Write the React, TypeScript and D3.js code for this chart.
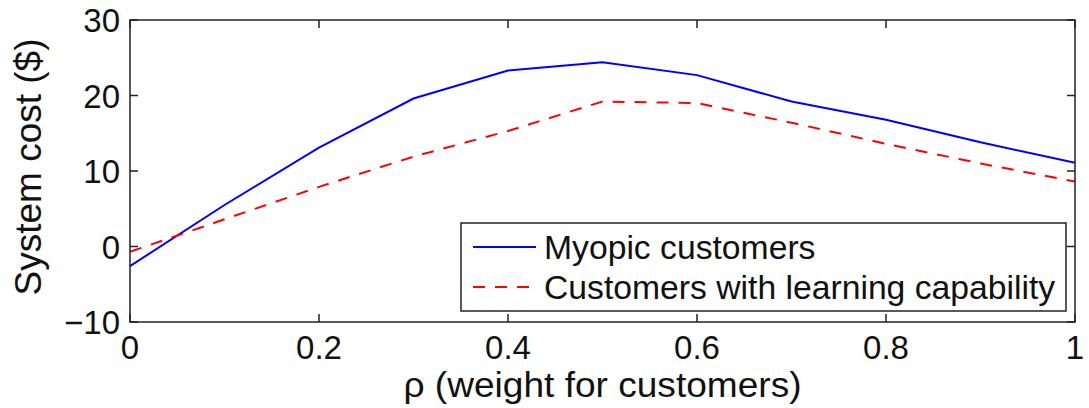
import React from "react";
import * as d3 from "d3";

// weight for customers
const rho = [0, 0.1, 0.2, 0.3, 0.4, 0.5, 0.6, 0.7, 0.8, 0.9, 1.0];
// system cost ($)
const myopic = [-2.6, 5.5, 13.1, 19.6, 23.3, 24.4, 22.7, 19.2, 16.8, 13.8, 11.1];
const learning = [-0.7, 3.6, 7.9, 11.9, 15.3, 19.2, 19.0, 16.4, 13.6, 11.0, 8.6];
const xTicks = [0, 0.2, 0.4, 0.6, 0.8, 1];
const yTicks = [-10, 0, 10, 20, 30];
const seriesNames = ["Myopic customers", "Customers with learning capability"];

const W = 1089, H = 408;
const left = 130, right = 1075, top = 20, bottom = 322;
const font = "'Liberation Sans', Arial, sans-serif";

const App = () => {
    var x = d3.scaleLinear().domain([0, 1]).range([left, right]);
    var y = d3.scaleLinear().domain([-10, 30]).range([bottom, top]);

    var line = d3.line<number>()
        .x((d, i) => x(rho[i]))
        .y(d => y(d));

    const fmtY = (v: number) => (v < 0 ? "\u2212" + Math.abs(v) : String(v));
    const tickLen = 8;
    const ink = "#222";

    // legend box
    const lx = 461, ly = 223, lw = 605, lh = 88;

    return (
        <svg width={W} height={H} style={{ position: "absolute", left: 0, top: 0 }}>
            <rect x={0} y={0} width={W} height={H} fill="white" />

            {/* lines */}
            <path d={line(myopic) || ""} fill="none" stroke="#0000ff" strokeWidth={2} />
            <path d={line(learning) || ""} fill="none" stroke="#ff0000" strokeWidth={2} strokeDasharray="12,10" />

            {/* axes box */}
            <rect x={left} y={top} width={right - left} height={bottom - top} fill="none" stroke={ink} strokeWidth={1.5} />

            {xTicks.map(t => (
                <g key={"x" + t}>
                    <line x1={x(t)} x2={x(t)} y1={bottom} y2={bottom - tickLen} stroke={ink} strokeWidth={1.5} />
                    <line x1={x(t)} x2={x(t)} y1={top} y2={top + tickLen} stroke={ink} strokeWidth={1.5} />
                    <text x={x(t)} y={359} textAnchor="middle" fontFamily={font} fontSize={33} fill="#111">{t}</text>
                </g>
            ))}
            {yTicks.map(t => (
                <g key={"y" + t}>
                    <line x1={left} x2={left + tickLen} y1={y(t)} y2={y(t)} stroke={ink} strokeWidth={1.5} />
                    <line x1={right} x2={right - tickLen} y1={y(t)} y2={y(t)} stroke={ink} strokeWidth={1.5} />
                    <text x={120} y={y(t) + 12} textAnchor="end" fontFamily={font} fontSize={33} fill="#111">{fmtY(t)}</text>
                </g>
            ))}

            {/* axis labels (slightly widened, as in the original) */}
            <text transform={`translate(${(left + right) / 2},397) scale(1.06,1)`} textAnchor="middle" fontFamily={font} fontSize={35} fill="#111">
                ρ (weight for customers)
            </text>
            <text transform={`translate(41,167) rotate(-90)`} textAnchor="middle" fontFamily={font} fontSize={37} fill="#111">
                System cost ($)
            </text>

            {/* legend */}
            <rect x={lx} y={ly} width={lw} height={lh} fill="white" stroke={ink} strokeWidth={1.5} />
            <line x1={473} x2={536} y1={247} y2={247} stroke="#0000ff" strokeWidth={2} />
            <line x1={473} x2={536} y1={287} y2={287} stroke="#ff0000" strokeWidth={2} strokeDasharray="12,10" />
            <text x={544} y={259} fontFamily={font} fontSize={33.7} fill="#111">{seriesNames[0]}</text>
            <text x={544} y={299} fontFamily={font} fontSize={33.7} fill="#111">{seriesNames[1]}</text>
        </svg>
    );
};

export default App;
